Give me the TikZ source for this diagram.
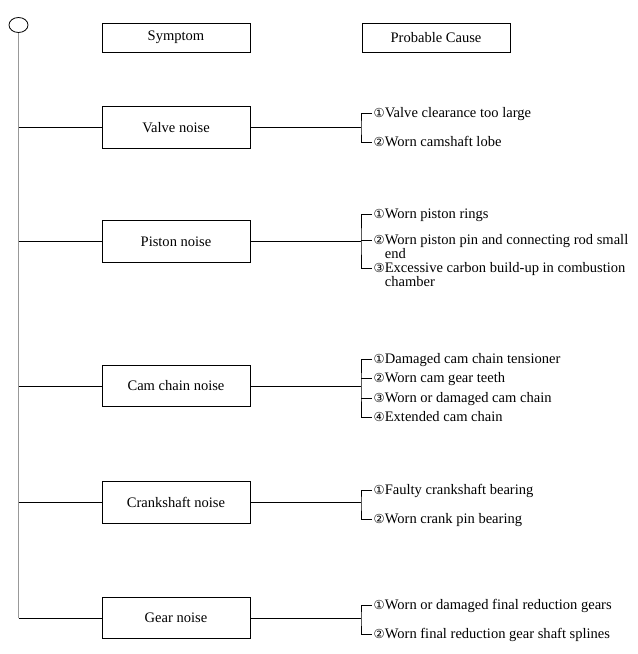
\documentclass[tikz,border=0pt]{standalone}
\usepackage{fontspec}
\setmainfont{Liberation Serif}
\newfontfamily\numfont{DejaVu Sans}
\newcommand{\cn}[1]{{\numfont\fontsize{9.3}{10}\selectfont #1}}
\usetikzlibrary{shapes.geometric}

\begin{document}
\begin{tikzpicture}[x=0.75pt,y=-0.75pt,line width=0.6pt]
    \tikzstyle{every node}=[font=\fontsize{10.9}{10.5}\selectfont];
    \tikzstyle{head}=[draw,minimum width=111pt,minimum height=21.75pt,inner sep=0pt];
    \tikzstyle{symptom}=[draw,minimum width=111pt,minimum height=31pt,inner sep=0pt];
    \tikzstyle{cause}=[anchor=base west,inner sep=1pt];
    \tikzstyle{spine}=[black!40];
    \useasboundingbox (0,0) rectangle (638,654);
    %\node (name) [symptom] at (x,y) {text};
    \node (top) at (18.5,25) [draw,ellipse,minimum width=14.25pt,minimum height=11.25pt,inner sep=0pt] {};
    \node (hs) at (176,37.5) [head] {Symptom};
    \node (hc) at (436,37.5) [head] {Probable Cause};
    \node (valve) at (176,127.5) [symptom] {Valve noise};
    \node (piston) at (176,241.5) [symptom] {Piston noise};
    \node (cam) at (176,386) [symptom] {Cam chain noise};
    \node (crank) at (176,502.5) [symptom] {Crankshaft noise};
    \node (gear) at (176,618) [symptom] {Gear noise};
    \node (v1) at (372,117) [cause] {\cn{①}Valve clearance too large};
    \node (v2) at (372,146) [cause] {\cn{②}Worn camshaft lobe};
    \node (p1) at (372,218) [cause] {\cn{①}Worn piston rings};
    \node (p2) at (372,244) [cause] {\cn{②}\begin{tabular}[t]{@{}l@{}}Worn piston pin and connecting rod small\\end\end{tabular}};
    \node (p3) at (372,272) [cause] {\cn{③}\begin{tabular}[t]{@{}l@{}}Excessive carbon build-up in combustion\\chamber\end{tabular}};
    \node (c1) at (372,363) [cause] {\cn{①}Damaged cam chain tensioner};
    \node (c2) at (372,382) [cause] {\cn{②}Worn cam gear teeth};
    \node (c3) at (372,402) [cause] {\cn{③}Worn or damaged cam chain};
    \node (c4) at (372,421) [cause] {\cn{④}Extended cam chain};
    \node (k1) at (372,494) [cause] {\cn{①}Faulty crankshaft bearing};
    \node (k2) at (372,523) [cause] {\cn{②}Worn crank pin bearing};
    \node (g1) at (372,609) [cause] {\cn{①}Worn or damaged final reduction gears};
    \node (g2) at (372,638) [cause] {\cn{②}Worn final reduction gear shaft splines};
    \coordinate (vb) at (361,127.5);
    \coordinate (pb) at (361,241.5);
    \coordinate (cb) at (361,386);
    \coordinate (kb) at (361,502.5);
    \coordinate (gb) at (361,618);
    \draw[spine] (top.south) -- (top.south |- gear.west);
    \draw (top.south |- valve.west) -- (valve.west)
    (top.south |- piston.west) -- (piston.west)
    (top.south |- cam.west) -- (cam.west)
    (top.south |- crank.west) -- (crank.west)
    (top.south |- gear.west) -- (gear.west);
    \draw (valve.east) -- (vb)
    (piston.east) -- (pb)
    (cam.east) -- (cb)
    (crank.east) -- (kb)
    (gear.east) -- (gb);
    \draw ([yshift=3pt]v1.base west) -| (vb) |- ([yshift=3pt]v2.base west);
    \draw ([yshift=3pt]p1.base west) -| (pb) |- ([yshift=3pt]p3.base west)
    ([yshift=3pt]p2.base west -| pb) -- ([yshift=3pt]p2.base west);
    \draw ([yshift=3pt]c1.base west) -| (cb) |- ([yshift=3pt]c4.base west)
    ([yshift=3pt]c2.base west -| cb) -- ([yshift=3pt]c2.base west)
    ([yshift=3pt]c3.base west -| cb) -- ([yshift=3pt]c3.base west);
    \draw ([yshift=3pt]k1.base west) -| (kb) |- ([yshift=3pt]k2.base west);
    \draw ([yshift=3pt]g1.base west) -| (gb) |- ([yshift=3pt]g2.base west);
  \end{tikzpicture}
\end{document}
